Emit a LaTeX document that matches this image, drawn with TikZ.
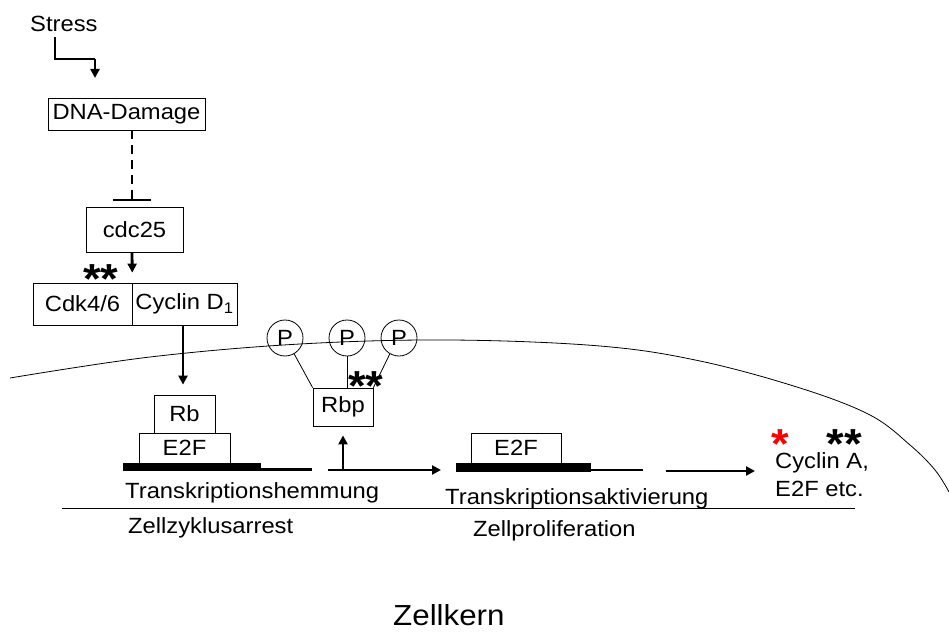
\documentclass[tikz,border=0pt]{standalone}
\usepackage{fontspec}
\setmainfont[FakeStretch=1.08]{Liberation Sans}
\usetikzlibrary{arrows.meta}
\newcommand\fsA{\fontsize{22}{26}\selectfont}
\newcommand\fsB{\fontsize{29}{34}\selectfont}
\newcommand\fsStar{\fontsize{42}{42}\selectfont\bfseries}
\newcommand\stxt[1]{\raisebox{-13.5pt}[13.5pt][0pt]{#1}}
\tikzset{
  box/.style={draw, line width=0.8pt, inner sep=0pt, font=\fsA},
  lbl/.style={inner sep=0pt, font=\fsA, anchor=base west},
  stars/.style={inner sep=0pt, font=\fsStar, anchor=center},
  arr/.style={line width=2.8pt, -{Triangle[length=9pt,width=9pt]}},
  thick line/.style={line width=2.8pt},
  thin line/.style={line width=0.8pt},
  pcirc/.style={draw, circle, line width=0.8pt, minimum size=36pt, inner sep=0pt, font=\fsA},
}
\begin{document}
\begin{tikzpicture}[x=1pt,y=-1pt]
\useasboundingbox (0,0) rectangle (949,631);
% membrane
\draw[thin line] plot[smooth, tension=0.6] coordinates {(10,378) (150,357) (300,344) (450,340) (600,346) (700,361) (800,388) (870,415) (910,445) (935,470) (949,492)};
% Stress
\node[lbl] (stress) at (30,32) {Stress};
\coordinate (s1) at (55,37);
\coordinate (s2) at (55,59);
\coordinate (s3) at (95,59);
\coordinate (s4) at (95,78);
\draw[line width=2.8pt] (s1) -- (s2) -- (s3);
\draw[arr] (s3) -- (s4);
% boxes
\node[box, minimum width=157pt, minimum height=32pt] (dna) at (126.5,114) {DNA-Damage};
\node[box, minimum width=97pt, minimum height=45pt] (cdc) at (134.5,229.5) {cdc25};
\node[box, minimum width=99pt, minimum height=42pt] (cdk) at (82.5,304) {Cdk4/6};
\node[box, minimum width=105pt, minimum height=42pt] (cyc) at (184.5,304) {Cyclin D\textsubscript{1}};
\node[box, minimum width=61pt, minimum height=38pt] (rb) at (184.5,414) {Rb};
\node[box, minimum width=91pt, minimum height=30pt] (e2fa) at (184.5,448) {E2F};
\node[box, minimum width=60pt, minimum height=38pt] (rbp) at (343,407) {Rbp};
\node[box, minimum width=90pt, minimum height=30pt] (e2fb) at (516,448) {E2F};
% P circles
\node[pcirc] (p1) at (285,338) {P};
\node[pcirc] (p2) at (347,338) {P};
\node[pcirc] (p3) at (399,338) {P};
\draw[thin line] (p1.-60) -- (rbp.north west);
\draw[thin line] (p2.south) -- (rbp.north -| p2.south);
\draw[thin line] (p3.-120) -- (rbp.north east);
% dashed inhibition
\coordinate (tb) at (132,200);
\draw[line width=2.8pt, dash pattern=on 9pt off 6pt] (dna.south -| tb) -- (tb);
\draw[line width=2.6pt] ([xshift=-19pt]tb) -- ([xshift=19pt]tb);
% arrows
\draw[arr, shorten >=10pt] (cdc.south -| tb) -- (cdk.north east);
\coordinate (cy) at (183,325);
\draw[arr, shorten >=10pt] (cy) -- (rb.north -| cy);
% DNA strands
\fill (123,463) rectangle (261,471);
\coordinate (d1) at (261,469.5);
\coordinate (d2) at (312,469.5);
\draw[thick line] (d1) -- (d2);
\coordinate (d3) at (328,470);
\coordinate (d4) at (441,470);
\coordinate (d5) at (343,470);
\draw[arr] (d3) -- (d4);
\draw[thick line] (d3) -- (d5);
\draw[arr, shorten >=9pt] (d5) -- (rbp.south -| d5);
\fill (456,463) rectangle (591,472);
\coordinate (d6) at (591,470);
\coordinate (d7) at (643,470);
\draw[thick line] (d6) -- (d7);
\coordinate (d8) at (666,471);
\coordinate (d9) at (755,471);
\draw[arr] (d8) -- (d9);
% separator line
\coordinate (l1) at (62,508);
\coordinate (l2) at (855,508);
\draw[thin line] (l1) -- (l2);
% labels
\node[lbl] (th) at (125,498) {Transkriptionshemmung};
\node[lbl] (za) at (128,533) {Zellzyklusarrest};
\node[lbl] (ta) at (445,504) {Transkriptionsaktivierung};
\node[lbl] (zp) at (473,536) {Zellproliferation};
\node[lbl] (ca) at (775,468) {Cyclin A,};
\node[lbl] (ee) at (775,496) {E2F etc.};
\node[inner sep=0pt, font=\fsB, anchor=base west] (zk) at (393,625) {Zellkern};
% stars
\node[stars] (st1) at (101,273) {\stxt{**}};
\node[stars] (st2) at (366,380) {\stxt{**}};
\node[stars, text=red] (st3) at (780,438) {\stxt{*}};
\node[stars] (st4) at (844,438) {\stxt{**}};
\end{tikzpicture}
\end{document}
